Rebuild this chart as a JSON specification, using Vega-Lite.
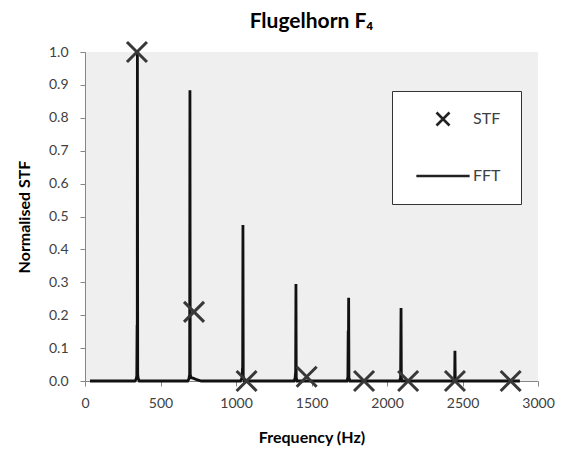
{
  "$schema": "https://vega.github.io/schema/vega-lite/v6.json",
  "width": 453,
  "height": 329,
  "autosize": {"type": "none"},
  "padding": {"left": 85, "top": 52, "right": 30, "bottom": 69},
  "background": "white",
  "title": {"text": "Flugelhorn F₄", "font": "Lato", "fontSize": 21, "fontWeight": "bold", "color": "#000000", "offset": 4, "anchor": "middle"},
  "config": {
    "view": {"fill": "#efefef", "stroke": null},
    "axis": {
      "domainColor": "#868686", "tickColor": "#868686", "grid": false,
      "labelFont": "Lato", "labelFontSize": 14, "labelColor": "#404040",
      "titleFont": "Lato", "titleFontSize": 16, "titleFontWeight": "bold", "titleColor": "#000000",
      "tickSize": 5
    }
  },
  "datasets": {
    "fft": [
      {"freq": 33, "amp": 0}, {"freq": 330, "amp": 0}, {"freq": 338, "amp": 0.005}, {"freq": 343, "amp": 0.015},
      {"freq": 345, "amp": 0.17}, {"freq": 346, "amp": 0.02}, {"freq": 347, "amp": 1.0}, {"freq": 349, "amp": 0.02},
      {"freq": 352, "amp": 0.008}, {"freq": 360, "amp": 0},
      {"freq": 680, "amp": 0}, {"freq": 688, "amp": 0.006}, {"freq": 693, "amp": 0.02}, {"freq": 695, "amp": 0.884},
      {"freq": 697, "amp": 0.02}, {"freq": 702, "amp": 0.01}, {"freq": 720, "amp": 0.008}, {"freq": 740, "amp": 0.004},
      {"freq": 770, "amp": 0},
      {"freq": 1030, "amp": 0}, {"freq": 1040, "amp": 0.01}, {"freq": 1043, "amp": 0.04}, {"freq": 1044, "amp": 0.01},
      {"freq": 1046, "amp": 0.474}, {"freq": 1048, "amp": 0.015}, {"freq": 1055, "amp": 0},
      {"freq": 1385, "amp": 0}, {"freq": 1392, "amp": 0.01}, {"freq": 1395, "amp": 0.03}, {"freq": 1397, "amp": 0.295},
      {"freq": 1399, "amp": 0.01}, {"freq": 1405, "amp": 0},
      {"freq": 1735, "amp": 0}, {"freq": 1741, "amp": 0.012}, {"freq": 1743, "amp": 0.153}, {"freq": 1744, "amp": 0.02},
      {"freq": 1746, "amp": 0.253}, {"freq": 1748, "amp": 0.01}, {"freq": 1755, "amp": 0},
      {"freq": 2083, "amp": 0}, {"freq": 2090, "amp": 0.01}, {"freq": 2093, "amp": 0.222}, {"freq": 2095, "amp": 0.01},
      {"freq": 2100, "amp": 0},
      {"freq": 2440, "amp": 0}, {"freq": 2448, "amp": 0.005}, {"freq": 2450, "amp": 0.092}, {"freq": 2452, "amp": 0.005},
      {"freq": 2460, "amp": 0}, {"freq": 2880, "amp": 0}
    ],
    "stf": [
      {"freq": 344, "amp": 1.0, "series": "STF"},
      {"freq": 722, "amp": 0.21, "series": "STF"},
      {"freq": 1070, "amp": 0.0, "series": "STF"},
      {"freq": 1468, "amp": 0.013, "series": "STF"},
      {"freq": 1848, "amp": 0.0, "series": "STF"},
      {"freq": 2140, "amp": 0.0, "series": "STF"},
      {"freq": 2450, "amp": 0.0, "series": "STF"},
      {"freq": 2819, "amp": 0.0, "series": "STF"}
    ]
  },
  "layer": [
    {
      "data": {"name": "fft"},
      "mark": {"type": "line", "color": "#111111", "strokeWidth": 2.8},
      "encoding": {
        "x": {"field": "freq", "type": "quantitative", "scale": {"domain": [0, 3000], "nice": false},
          "axis": {"title": "Frequency (Hz)", "values": [0, 500, 1000, 1500, 2000, 2500, 3000], "format": "d", "labelFlush": false, "labelPadding": 10, "titlePadding": 19}},
        "y": {"field": "amp", "type": "quantitative", "scale": {"domain": [0, 1], "nice": false},
          "axis": {"title": "Normalised STF", "values": [0, 0.1, 0.2, 0.3, 0.4, 0.5, 0.6, 0.7, 0.8, 0.9, 1.0], "format": ".1f", "labelFlush": false, "labelOverlap": false, "labelPadding": 12, "titlePadding": 16}}
      }
    },
    {
      "data": {"name": "stf"},
      "mark": {"type": "point", "filled": false, "size": 400, "strokeWidth": 3, "color": "#383838", "opacity": 1, "clip": false},
      "encoding": {
        "x": {"field": "freq", "type": "quantitative",
          "axis": {"title": "Frequency (Hz)", "values": [0, 500, 1000, 1500, 2000, 2500, 3000], "format": "d", "labelFlush": false, "labelPadding": 10, "titlePadding": 19}},
        "y": {"field": "amp", "type": "quantitative",
          "axis": {"title": "Normalised STF", "values": [0, 0.1, 0.2, 0.3, 0.4, 0.5, 0.6, 0.7, 0.8, 0.9, 1.0], "format": ".1f", "labelFlush": false, "labelOverlap": false, "labelPadding": 12, "titlePadding": 16}},
        "shape": {
          "field": "series", "type": "nominal",
          "scale": {"domain": ["STF", "FFT"], "range": ["M-1,-1L1,1M-1,1L1,-1", "M-4.1,0L4.1,0"]},
          "legend": {
            "title": null, "orient": "none", "legendX": 307, "legendY": 39,
            "fillColor": "#ffffff", "strokeColor": "#333333", "padding": 20,
            "symbolSize": 169, "symbolStrokeWidth": 2.6, "symbolStrokeColor": "#222222", "symbolFillColor": "transparent", "symbolOpacity": 1,
            "symbolOffset": 23, "labelOffset": 22, "rowPadding": 37,
            "labelFont": "Lato", "labelFontSize": 16, "labelColor": "#404040"
          }
        }
      }
    }
  ]
}
